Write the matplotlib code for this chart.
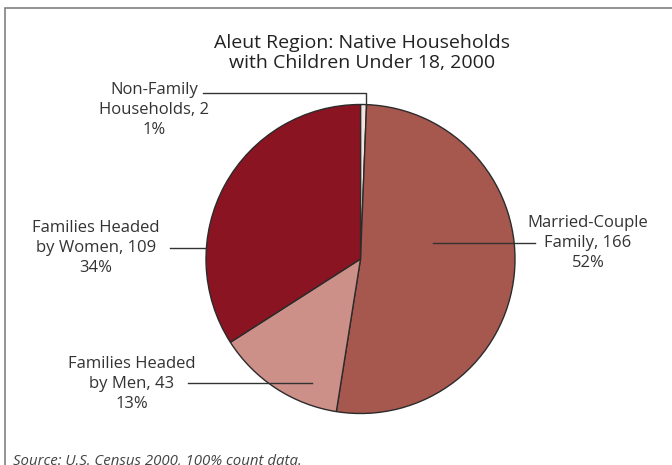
import matplotlib.pyplot as plt
from matplotlib.patches import Rectangle

# data
labels = ['Non-Family\nHouseholds, 2\n1%', 'Married-Couple\nFamily, 166\n52%',
          'Families Headed\nby Men, 43\n13%', 'Families Headed\nby Women, 109\n34%']
counts = [2, 166, 43, 109]
colors = ['#f4e2de', '#a6574e', '#cd9089', '#8a1421']

W, H = 672, 465
plt.rcParams['font.family'] = ['Open Sans', 'DejaVu Sans']

fig = plt.figure(figsize=(6.72, 4.65), dpi=100)
ax = fig.add_axes([0, 0, 1, 1])


def py(y):
    # pixel row (from top) -> data y
    return H - y


# outer frame (cut off on right and bottom)
ax.add_patch(Rectangle((5, py(470)), 700, 462, fill=False,
                       edgecolor='#808080', lw=1.2))

cx, cy, r = 360.5, py(259), 154.5
ax.pie(counts, colors=colors, startangle=90, counterclock=False,
       center=(cx, cy), radius=r, frame=True,
       wedgeprops=dict(edgecolor='#2b2b2b', linewidth=1.0))
ax.set_xlim(0, W)
ax.set_ylim(0, H)
ax.set_aspect('equal')
ax.axis('off')

ax.text(362.5, py(53), 'Aleut Region: Native Households\nwith Children Under 18, 2000',
        ha='center', va='center', fontsize=14, color='#222222', linespacing=1.15)

fs = 12
tc = '#333333'
lc = '#333333'
# Non-family
ax.text(154, py(110), labels[0], ha='center', va='center', fontsize=fs,
        color=tc, linespacing=1.3)
ax.plot([203, 366, 366], [py(93), py(93), py(106)], color=lc, lw=1)
# Married-couple
ax.text(588, py(243), labels[1], ha='center', va='center', fontsize=fs,
        color=tc, linespacing=1.3)
ax.plot([433, 535], [py(243), py(243)], color=lc, lw=1)
# Women
ax.text(96, py(248), labels[3], ha='center', va='center', fontsize=fs,
        color=tc, linespacing=1.3)
ax.plot([170, 206], [py(248), py(248)], color=lc, lw=1)
# Men
ax.text(132, py(384), labels[2], ha='center', va='center', fontsize=fs,
        color=tc, linespacing=1.3)
ax.plot([188, 312], [py(383), py(383)], color=lc, lw=1)

ax.text(13, py(461), 'Source: U.S. Census 2000, 100% count data.', ha='left',
        va='center', fontsize=10.8, style='italic', color='#444444')

fig.savefig('out.png', dpi=100)
